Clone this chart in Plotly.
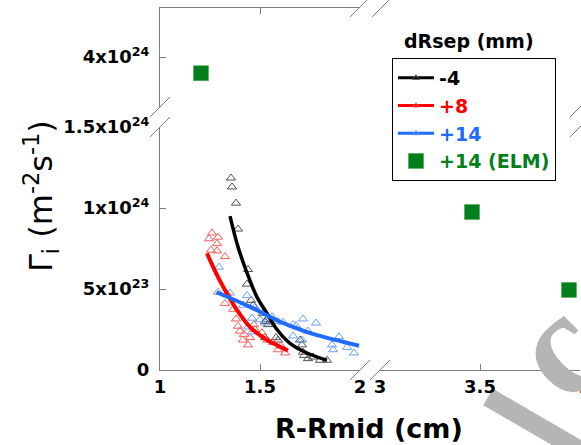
import plotly.graph_objects as go

# ---------------- data (Gamma in units of 1e24 m^-2 s^-1, R-Rmid in cm) -------------
m4_x = [1.355, 1.36, 1.38, 1.39, 1.44, 1.435, 1.455, 1.465, 1.515, 1.525, 1.535, 1.54,
        1.525, 1.58, 1.59, 1.70, 1.71, 1.715, 1.765, 1.80, 1.835, 1.72, 1.74]
m4_y = [1.185, 1.13, 1.03, 0.87, 0.62, 0.53, 0.43, 0.40, 0.35, 0.30, 0.31, 0.28,
        0.20, 0.20, 0.185, 0.185, 0.155, 0.11, 0.08, 0.06, 0.06, 0.09, 0.07]

p8_x = [1.26, 1.245, 1.29, 1.285, 1.255, 1.285, 1.325, 1.335, 1.325, 1.365, 1.38, 1.40,
        1.42, 1.415, 1.44, 1.45, 1.475, 1.51, 1.535, 1.565, 1.59, 1.625, 1.605, 1.39, 1.47]
p8_y = [0.846, 0.81, 0.82, 0.78, 0.74, 0.735, 0.70, 0.47, 0.41, 0.375, 0.315, 0.24,
        0.22, 0.185, 0.155, 0.20, 0.25, 0.23, 0.185, 0.17, 0.125, 0.105, 0.148, 0.27, 0.28]

p14_x = [1.295, 1.29, 1.35, 1.435, 1.415, 1.475, 1.46, 1.50, 1.44, 1.46, 1.525, 1.59, 1.615,
         1.665, 1.68, 1.715, 1.78, 1.665, 1.71, 1.86, 1.895, 1.935, 1.97, 1.865, 1.74, 1.56]
p14_y = [0.635, 0.48, 0.475, 0.46, 0.40, 0.39, 0.32, 0.31, 0.265, 0.235, 0.29, 0.30, 0.295,
         0.28, 0.275, 0.315, 0.29, 0.21, 0.185, 0.155, 0.205, 0.14, 0.105, 0.125, 0.24, 0.33]

fit_m4_x = [1.35, 1.39, 1.435, 1.485, 1.535, 1.585, 1.65, 1.735, 1.835]
fit_m4_y = [0.95, 0.76, 0.60, 0.45, 0.35, 0.25, 0.165, 0.105, 0.06]
fit_p8_x = [1.235, 1.30, 1.385, 1.45, 1.535, 1.59, 1.64]
fit_p8_y = [0.72, 0.55, 0.37, 0.265, 0.185, 0.15, 0.12]
fit_p14_x = [1.283, 1.45, 1.615, 1.70, 1.785, 1.995]
fit_p14_y = [0.48, 0.39, 0.29, 0.25, 0.215, 0.15]

elm_x = [1.205, 3.46, 3.945]
elm_y = [3.90, 0.975, 0.494]

x_left_ticks = [1, 1.5, 2]
x_right_ticks = [3, 3.5, 4]
y_low_ticks = [0, 0.5, 1.0, 1.5]
y_low_text = ["0", "5x10<sup>23</sup>", "1x10<sup>24</sup>", "1.5x10<sup>24</sup>"]
y_up_ticks = [4.0]
y_up_text = ["4x10<sup>24</sup>"]

series_names = ["-4", "+8", "+14", "+14 (ELM)"]
# ------------------------------------------------------------------------------------

W, H = 581, 445
L, R, T, B = 160, 1, 8, 75
PW, PH = W - L - R, H - T - B          # 420 x 362

def px(xp):
    return (xp - L) / PW

def py(yp):
    return (H - B - yp) / PH

BOLD = "DejaVu Sans"
AX = "#7f7f7f"

fig = go.Figure()

pt_black = "#505050"
pt_red = "#ff5a5a"
pt_blue = "#6b9cff"
ln_black = "#000000"
ln_red = "#ff0000"
ln_blue = "#1f6bff"
green = "#00801a"

# faint background watermark (decoration in the source image)
fig.add_shape(type="line", xref="paper", yref="paper", layer="below",
              x0=px(488), y0=py(397), x1=px(600), y1=py(462),
              line=dict(color="#b5b5b5", width=19))

for xs, ys, c in [(m4_x, m4_y, pt_black), (p8_x, p8_y, pt_red), (p14_x, p14_y, pt_blue)]:
    fig.add_trace(go.Scatter(x=xs, y=ys, mode="markers", showlegend=False,
                             marker=dict(symbol="triangle-up-open", size=8, color=c,
                                         line=dict(width=1, color=c)),
                             xaxis="x", yaxis="y"))

for xs, ys, c, w in [(fit_m4_x, fit_m4_y, ln_black, 3.5), (fit_p8_x, fit_p8_y, ln_red, 4),
                     (fit_p14_x, fit_p14_y, ln_blue, 4)]:
    fig.add_trace(go.Scatter(x=xs, y=ys, mode="lines", showlegend=False,
                             line=dict(color=c, width=w, shape="spline"),
                             xaxis="x", yaxis="y"))

# legend entries (line + small triangle)
for name, lc, mc, rank in [(series_names[0], ln_black, pt_black, 1),
                           (series_names[1], ln_red, pt_red, 2),
                           (series_names[2], ln_blue, pt_blue, 3)]:
    fig.add_trace(go.Scatter(x=[None], y=[None], mode="lines+markers",
                             name=f"<span style='color:{lc}'>{name}</span>",
                             legendrank=rank,
                             line=dict(color=lc, width=3),
                             marker=dict(symbol="triangle-up-open", size=6, color=mc),
                             xaxis="x", yaxis="y"))

# ELM points: one on the upper-left panel, two on the lower-right panel
fig.add_trace(go.Scatter(x=elm_x[:1], y=elm_y[:1], mode="markers",
                         name=f"<span style='color:{green}'>{series_names[3]}</span>",
                         legendrank=4, legendgroup="elm",
                         marker=dict(symbol="square", size=15, color=green,
                                     line=dict(width=0.5, color="#40a040")),
                         xaxis="x3", yaxis="y2"))
fig.add_trace(go.Scatter(x=elm_x[1:], y=elm_y[1:], mode="markers", showlegend=False,
                         legendgroup="elm",
                         marker=dict(symbol="square", size=15, color=green,
                                     line=dict(width=0.5, color="#40a040")),
                         xaxis="x2", yaxis="y"))

dL = [0, px(360)]
dR = [px(380), 1]
dLow = [0, py(127)]
dUp = [py(107), 1]
y_up_range = [4.0 - (107 - 57) / 162.0, 4.0 + (57 - 8) / 162.0]

tickfont = dict(family=BOLD, size=18, color="black", weight="bold")
common = dict(showline=True, linecolor=AX, linewidth=1, ticks="inside", ticklen=6,
              tickcolor=AX, showgrid=False, zeroline=False, automargin=False,
              fixedrange=True, ticklabeloverflow="allow")

fig.update_layout(
    width=W, height=H,
    margin=dict(l=L, r=R, t=T, b=B),
    paper_bgcolor="white", plot_bgcolor="rgba(0,0,0,0)",
    xaxis=dict(domain=dL, range=[1, 2], anchor="y", tickvals=x_left_ticks,
               ticktext=[str(v) for v in x_left_ticks], tickfont=tickfont, **common),
    xaxis2=dict(domain=dR, range=[3, 4], anchor="y", tickvals=x_right_ticks,
                ticktext=[str(v) for v in x_right_ticks], tickfont=tickfont, **common),
    xaxis3=dict(domain=dL, range=[1, 2], anchor="y2", side="top", tickvals=x_left_ticks,
                showticklabels=False, **common),
    xaxis4=dict(domain=dR, range=[3, 4], anchor="y2", side="top", tickvals=x_right_ticks,
                showticklabels=False, **common),
    yaxis=dict(domain=dLow, range=[0, 1.5], anchor="x", tickvals=y_low_ticks,
               ticktext=y_low_text, tickfont=tickfont, ticklabelstandoff=6, **common),
    yaxis2=dict(domain=dUp, range=y_up_range, anchor="x", tickvals=y_up_ticks,
                ticktext=y_up_text, tickfont=tickfont, ticklabelstandoff=6, **common),
    yaxis3=dict(domain=dLow, range=[0, 1.5], anchor="x2", side="right",
                tickvals=y_low_ticks, showticklabels=False, **common),
    yaxis4=dict(domain=dUp, range=y_up_range, anchor="x2", side="right",
                tickvals=y_up_ticks, showticklabels=False, **common),
    showlegend=True,
    legend=dict(x=px(392), y=py(58), xanchor="left", yanchor="top",
                bordercolor="black", borderwidth=1, bgcolor="white",
                font=dict(family=BOLD, size=19, weight="bold"),
                tracegroupgap=0, itemwidth=36),
)

# watermark letter (light grey, as in the source image)
fig.add_annotation(x=px(556), y=py(348), xref="paper", yref="paper", showarrow=False,
                   text="c", textangle=-45, xanchor="center", yanchor="middle",
                   font=dict(family="Liberation Serif", size=150, color="#b5b5b5",
                             weight="bold"))

# axis titles + legend title
fig.add_annotation(x=px(369), y=py(428), xref="paper", yref="paper", showarrow=False,
                   text="R-Rmid (cm)", xanchor="center", yanchor="middle",
                   font=dict(family=BOLD, size=27, color="black", weight="bold"))
fig.add_annotation(x=px(41), y=py(196), xref="paper", yref="paper", showarrow=False,
                   text="Γ<sub>i</sub> (m<sup>-2</sup>s<sup>-1</sup>)", textangle=-90,
                   xanchor="center", yanchor="middle",
                   font=dict(family="DejaVu Sans", size=32, color="black"))
fig.add_annotation(x=px(469), y=py(41), xref="paper", yref="paper", showarrow=False,
                   text="dRsep (mm)", xanchor="center", yanchor="middle",
                   font=dict(family=BOLD, size=19, color="black", weight="bold"))

# axis break marks
breaks = [
    (150, 117, 170, 97), (150, 137, 170, 117),      # left y break
    (570, 117, 590, 97), (570, 137, 590, 117),      # right y break
    (350, 380, 370, 360), (370, 380, 390, 360),     # bottom x break
    (350, 17, 370, -3), (372, 17, 392, -3),         # top x break
]
for x0, y0, x1, y1 in breaks:
    fig.add_shape(type="line", xref="paper", yref="paper",
                  x0=px(x0), y0=py(y0), x1=px(x1), y1=py(y1),
                  line=dict(color=AX, width=1))

fig.write_html("out.html", config={"displayModeBar": False},
               post_script="document.body.style.margin='0px';document.body.style.overflow='hidden';")
